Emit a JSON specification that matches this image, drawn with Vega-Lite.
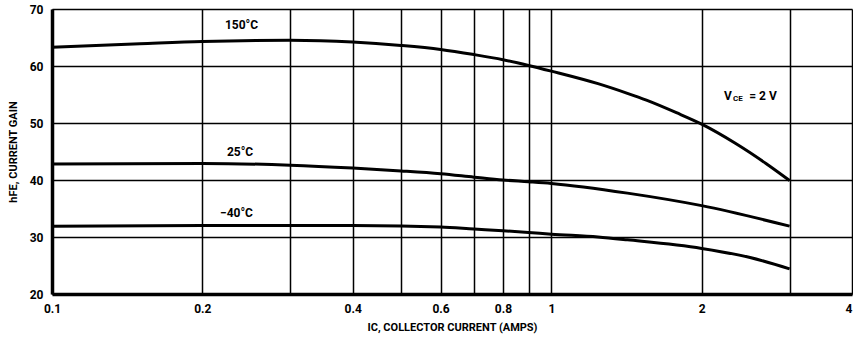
{
  "$schema": "https://vega.github.io/schema/vega-lite/v6.json",
  "width": 800,
  "height": 285,
  "autosize": {"type": "none"},
  "padding": {"left": 52, "top": 9, "right": 1, "bottom": 48},
  "background": "white",
  "config": {
    "view": {"stroke": null},
    "font": "Roboto",
    "text": {"font": "Roboto", "fontWeight": "bold", "color": "black"}
  },
  "datasets": {
    "curves": [
      {"ic": 0.1, "hfe": 63.3, "temp": "150°C"},
      {"ic": 0.15, "hfe": 63.9, "temp": "150°C"},
      {"ic": 0.2, "hfe": 64.3, "temp": "150°C"},
      {"ic": 0.3, "hfe": 64.5, "temp": "150°C"},
      {"ic": 0.4, "hfe": 64.2, "temp": "150°C"},
      {"ic": 0.5, "hfe": 63.6, "temp": "150°C"},
      {"ic": 0.6, "hfe": 62.9, "temp": "150°C"},
      {"ic": 0.7, "hfe": 62.0, "temp": "150°C"},
      {"ic": 0.8, "hfe": 61.1, "temp": "150°C"},
      {"ic": 0.9, "hfe": 60.1, "temp": "150°C"},
      {"ic": 1.0, "hfe": 59.1, "temp": "150°C"},
      {"ic": 1.24, "hfe": 56.9, "temp": "150°C"},
      {"ic": 1.42, "hfe": 55.2, "temp": "150°C"},
      {"ic": 1.55, "hfe": 54.0, "temp": "150°C"},
      {"ic": 1.78, "hfe": 51.8, "temp": "150°C"},
      {"ic": 2.0, "hfe": 49.8, "temp": "150°C"},
      {"ic": 2.34, "hfe": 46.4, "temp": "150°C"},
      {"ic": 2.69, "hfe": 42.9, "temp": "150°C"},
      {"ic": 3.0, "hfe": 39.9, "temp": "150°C"},
      {"ic": 0.1, "hfe": 42.8, "temp": "25°C"},
      {"ic": 0.2, "hfe": 42.9, "temp": "25°C"},
      {"ic": 0.3, "hfe": 42.6, "temp": "25°C"},
      {"ic": 0.4, "hfe": 42.1, "temp": "25°C"},
      {"ic": 0.5, "hfe": 41.6, "temp": "25°C"},
      {"ic": 0.6, "hfe": 41.1, "temp": "25°C"},
      {"ic": 0.7, "hfe": 40.5, "temp": "25°C"},
      {"ic": 0.8, "hfe": 40.0, "temp": "25°C"},
      {"ic": 0.9, "hfe": 39.7, "temp": "25°C"},
      {"ic": 1.0, "hfe": 39.4, "temp": "25°C"},
      {"ic": 1.42, "hfe": 37.7, "temp": "25°C"},
      {"ic": 2.0, "hfe": 35.5, "temp": "25°C"},
      {"ic": 3.0, "hfe": 31.9, "temp": "25°C"},
      {"ic": 0.1, "hfe": 31.9, "temp": "-40°C"},
      {"ic": 0.2, "hfe": 32.0, "temp": "-40°C"},
      {"ic": 0.3, "hfe": 32.0, "temp": "-40°C"},
      {"ic": 0.4, "hfe": 32.0, "temp": "-40°C"},
      {"ic": 0.5, "hfe": 31.95, "temp": "-40°C"},
      {"ic": 0.6, "hfe": 31.75, "temp": "-40°C"},
      {"ic": 0.7, "hfe": 31.4, "temp": "-40°C"},
      {"ic": 0.8, "hfe": 31.1, "temp": "-40°C"},
      {"ic": 0.9, "hfe": 30.8, "temp": "-40°C"},
      {"ic": 1.0, "hfe": 30.5, "temp": "-40°C"},
      {"ic": 1.24, "hfe": 30.0, "temp": "-40°C"},
      {"ic": 1.42, "hfe": 29.5, "temp": "-40°C"},
      {"ic": 2.0, "hfe": 28.0, "temp": "-40°C"},
      {"ic": 2.5, "hfe": 26.4, "temp": "-40°C"},
      {"ic": 3.0, "hfe": 24.4, "temp": "-40°C"}
    ],
    "labels": [
      {"ic": 0.222, "hfe": 67.2, "t": "150°C"},
      {"ic": 0.224, "hfe": 45.0, "t": "25°C"},
      {"ic": 0.217, "hfe": 34.15, "t": "−40°C"},
      {"ic": 2.216, "hfe": 54.7, "t": "V"},
      {"ic": 2.49, "hfe": 54.7, "t": "= 2  V"}
    ],
    "sublabels": [
      {"ic": 2.31, "hfe": 54.2, "t": "CE"}
    ]
  },
  "layer": [
    {
      "data": {"name": "curves"},
      "mark": {"type": "line", "color": "black", "strokeWidth": 3, "interpolate": "monotone"},
      "encoding": {
        "x": {
          "field": "ic", "type": "quantitative",
          "scale": {"type": "log", "domain": [0.1, 4], "nice": false},
          "axis": {
            "title": "IC, COLLECTOR CURRENT (AMPS)",
            "values": [0.1, 0.2, 0.3, 0.4, 0.5, 0.6, 0.7, 0.8, 0.9, 1, 2, 3, 4],
            "format": "~g",
            "labelExpr": "(datum.value > 0.25 && datum.value < 0.35) || (datum.value > 0.45 && datum.value < 0.55) || (datum.value > 0.65 && datum.value < 0.75) || (datum.value > 0.85 && datum.value < 0.95) || (datum.value > 2.5 && datum.value < 3.5) ? '' : datum.label",
            "labelAlign": {"condition": {"test": "datum.value > 3.5", "value": "right"}, "value": "center"},
            "grid": true, "gridColor": "black", "gridWidth": 1.5, "gridOpacity": 1,
            "ticks": false,
            "domainColor": "black", "domainWidth": 3.5,
            "labelFont": "Roboto", "labelFontWeight": "bold", "labelFontSize": 12, "labelColor": "black",
            "labelPadding": 9, "labelFlush": false, "labelOverlap": false,
            "titleFont": "Roboto", "titleFontWeight": "bold", "titleFontSize": 11, "titleColor": "black",
            "titlePadding": 7
          }
        },
        "y": {
          "field": "hfe", "type": "quantitative",
          "scale": {"domain": [20, 70], "nice": false, "zero": false},
          "axis": {
            "title": "hFE, CURRENT GAIN",
            "values": [20, 30, 40, 50, 60, 70],
            "grid": true, "gridColor": "black", "gridWidth": 1.5, "gridOpacity": 1,
            "ticks": false,
            "domainColor": "black", "domainWidth": 3.5,
            "labelFont": "Roboto", "labelFontWeight": "bold", "labelFontSize": 12, "labelColor": "black",
            "labelPadding": 9,
            "titleFont": "Roboto", "titleFontWeight": "bold", "titleFontSize": 11, "titleColor": "black",
            "titlePadding": 11
          }
        },
        "detail": {"field": "temp"}
      }
    },
    {
      "data": {"name": "labels"},
      "mark": {"type": "text", "align": "left", "baseline": "middle", "fontSize": 12, "fontWeight": "bold"},
      "encoding": {
        "x": {"field": "ic", "type": "quantitative"},
        "y": {"field": "hfe", "type": "quantitative"},
        "text": {"field": "t"}
      }
    },
    {
      "data": {"name": "sublabels"},
      "mark": {"type": "text", "align": "left", "baseline": "middle", "fontSize": 8, "fontWeight": "bold"},
      "encoding": {
        "x": {"field": "ic", "type": "quantitative"},
        "y": {"field": "hfe", "type": "quantitative"},
        "text": {"field": "t"}
      }
    }
  ]
}
